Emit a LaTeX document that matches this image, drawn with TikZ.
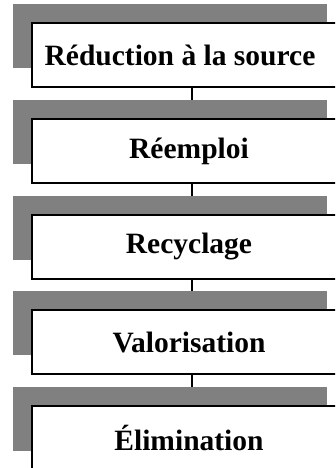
\documentclass[tikz,border=0pt]{standalone}
\usepackage{fontspec}
\setmainfont{Liberation Serif}
\definecolor{shade}{HTML}{808080}
\begin{document}
\begin{tikzpicture}[x=1pt,y=-1pt,
  shadowbox/.style={fill=shade,draw=none,minimum width=314pt,minimum height=64pt,inner sep=0pt},
  stagebox/.style={fill=white,draw=black,line width=1.8pt,minimum width=314pt,minimum height=64pt,inner sep=0pt,
    font=\fontsize{29.5}{32}\selectfont\bfseries},
  link/.style={draw=black,line width=1.8pt}]
\useasboundingbox (0,0) rectangle (335,468);
\clip (0,0) rectangle (335,468);
\foreach \n/\y in {1/55,2/151,3/247,4/342,5/438}{
  \node[shadowbox] (g\n) at (170,\y-19) {};
}
\node[stagebox] (b1) at (189,55) {Réduction à la source\hspace*{18pt}};
\node[stagebox] (b2) at (189,151) {Réemploi};
\node[stagebox] (b3) at (189,247) {Recyclage};
\node[stagebox] (b4) at (189,342) {Valorisation};
\node[stagebox] (b5) at (189,438) {Élimination};
\foreach \a/\b in {1/2,2/3,3/4,4/5}{
  \draw[link] ([xshift=3pt]b\a.south) -- ([xshift=3pt]b\a.south |- g\b.north);
}
\end{tikzpicture}
\end{document}
